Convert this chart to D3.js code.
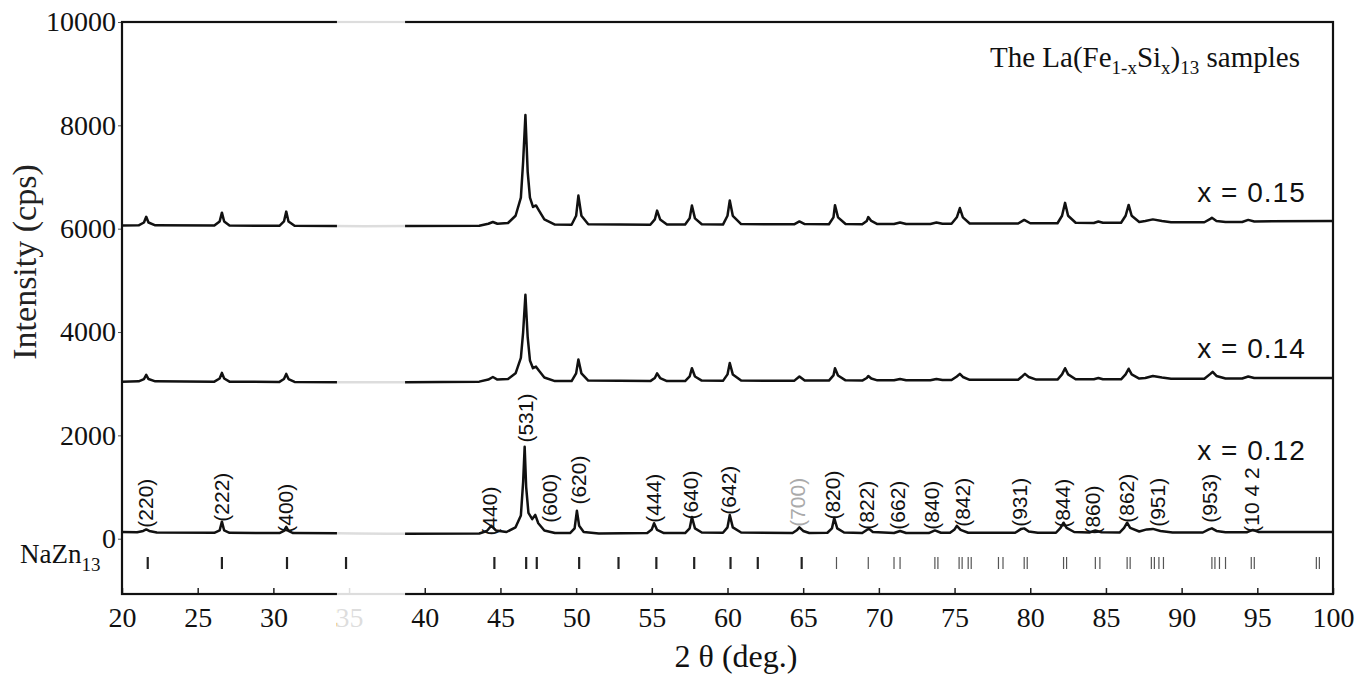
<!DOCTYPE html>
<html>
<head>
<meta charset="utf-8">
<script src="https://cdn.jsdelivr.net/npm/d3@7/dist/d3.min.js"></script>
<style>
  html, body { margin: 0; padding: 0; background: #fff; }
  svg { display: block; }
</style>
</head>
<body>
<svg id="chart" width="1370" height="677"></svg>
<script>
// ---------------- data ----------------
const xTicks = [20, 25, 30, 35, 40, 45, 50, 55, 60, 65, 70, 75, 80, 85, 90, 95, 100];
const yTicks = [0, 2000, 4000, 6000, 8000, 10000];

const seriesNames = ["x = 0.15", "x = 0.14", "x = 0.12"];
const seriesLabelY = [6520, 3500, 1530];

// x = 0.15 (top trace) [2theta, cps]
const seriesX015 = [
  [20,6060],[21.1,6065],[21.45,6120],[21.6,6230],[21.75,6120],[22.2,6065],
  [26.1,6060],[26.45,6140],[26.6,6310],[26.75,6140],[27.1,6060],
  [30.4,6055],[30.7,6140],[30.85,6330],[31.0,6140],[31.4,6055],
  [34.0,6050],[36.0,6045],[38.8,6050],
  [43.6,6055],[44.2,6095],[44.5,6130],[44.8,6095],[45.5,6110],[46.0,6250],[46.35,6600],[46.5,7300],[46.65,8200],[46.8,7100],[46.95,6600],[47.15,6420],[47.35,6450],[47.55,6350],[47.9,6180],[48.6,6080],
  [49.7,6075],[50.0,6250],[50.15,6640],[50.35,6250],[50.8,6085],
  [54.9,6075],[55.2,6180],[55.35,6350],[55.55,6180],[56.0,6080],
  [57.2,6080],[57.5,6200],[57.65,6450],[57.85,6200],[58.3,6085],
  [59.7,6080],[60.0,6250],[60.15,6545],[60.35,6250],[60.9,6090],
  [64.4,6085],[64.75,6140],[65.1,6090],
  [66.7,6085],[67.0,6220],[67.1,6455],[67.3,6220],[67.8,6090],
  [68.9,6085],[69.2,6150],[69.3,6225],[69.5,6150],[69.9,6090],
  [71.0,6090],[71.4,6120],[71.8,6090],
  [73.4,6090],[73.8,6120],[74.2,6095],
  [74.8,6095],[75.15,6220],[75.35,6400],[75.55,6220],[76.0,6100],
  [79.2,6100],[79.6,6170],[80.0,6105],
  [81.8,6105],[82.1,6250],[82.3,6500],[82.5,6250],[83.0,6115],
  [84.2,6110],[84.5,6140],[84.8,6115],
  [86.0,6115],[86.3,6250],[86.5,6460],[86.7,6250],[87.2,6130],
  [87.6,6150],[88.1,6180],[88.7,6150],[89.3,6125],
  [91.5,6125],[91.9,6190],[92.0,6210],[92.3,6150],[92.9,6130],
  [94.0,6130],[94.4,6170],[94.8,6140],
  [100,6150]
];

// x = 0.14 (middle trace)
const seriesX014 = [
  [20,3040],[21.1,3045],[21.45,3090],[21.6,3170],[21.75,3090],[22.2,3045],
  [26.1,3040],[26.45,3100],[26.6,3210],[26.75,3100],[27.1,3040],
  [30.4,3035],[30.7,3090],[30.85,3190],[31.0,3090],[31.4,3035],
  [34.5,3030],[36.5,3030],[38.7,3030],
  [43.6,3040],[44.2,3080],[44.5,3130],[44.8,3080],[45.5,3090],[46.0,3200],[46.35,3500],[46.5,4000],[46.65,4720],[46.8,3900],[46.95,3450],[47.15,3300],[47.35,3330],[47.55,3250],[47.9,3120],[48.6,3050],
  [49.7,3050],[50.0,3200],[50.15,3470],[50.35,3200],[50.8,3060],
  [54.9,3050],[55.2,3110],[55.35,3200],[55.55,3110],[56.0,3050],
  [57.2,3050],[57.5,3140],[57.65,3300],[57.85,3140],[58.3,3060],
  [59.7,3055],[60.0,3180],[60.15,3400],[60.35,3180],[60.9,3060],
  [64.4,3055],[64.75,3140],[65.1,3060],
  [66.7,3060],[67.0,3160],[67.1,3300],[67.3,3160],[67.8,3065],
  [68.9,3060],[69.2,3110],[69.3,3150],[69.5,3100],[69.9,3065],
  [71.0,3065],[71.4,3090],[71.8,3065],
  [73.4,3065],[73.8,3090],[74.2,3070],
  [74.8,3070],[75.15,3140],[75.35,3190],[75.55,3130],[76.0,3075],
  [79.2,3075],[79.5,3150],[79.65,3190],[79.9,3130],[80.4,3080],
  [81.8,3080],[82.1,3180],[82.3,3300],[82.5,3180],[83.0,3085],
  [84.2,3085],[84.5,3110],[84.8,3085],
  [86.0,3085],[86.3,3180],[86.5,3290],[86.7,3180],[87.2,3100],
  [87.6,3110],[88.1,3150],[88.7,3120],[89.3,3095],
  [91.5,3095],[91.9,3190],[92.05,3230],[92.3,3150],[92.9,3100],
  [94.0,3100],[94.4,3140],[94.8,3110],
  [100,3110]
];

// x = 0.12 (bottom trace)
const seriesX012 = [
  [20,130],[21.0,125],[21.4,150],[21.6,180],[21.8,150],[22.3,120],
  [26.1,115],[26.45,160],[26.6,330],[26.75,160],[27.1,115],
  [30.4,110],[30.7,150],[30.85,230],[31.0,150],[31.3,110],
  [34.3,105],[35.5,100],[37.5,95],[38.7,95],
  [43.6,100],[44.1,150],[44.4,250],[44.7,160],[45.4,130],[46.0,220],[46.35,450],[46.5,1100],[46.6,1780],[46.7,1000],[46.85,500],[47.1,380],[47.3,460],[47.5,300],[47.9,160],[48.6,110],
  [49.6,110],[49.9,200],[50.05,540],[50.2,250],[50.5,130],[51.5,100],
  [54.7,110],[55.0,180],[55.15,300],[55.35,170],[55.8,110],
  [57.2,110],[57.5,200],[57.65,420],[57.85,200],[58.3,120],
  [59.7,115],[60.0,220],[60.15,460],[60.35,220],[60.9,120],
  [64.3,110],[64.6,170],[64.75,220],[65.0,150],[65.4,110],
  [66.6,115],[66.9,200],[67.05,400],[67.25,200],[67.7,120],
  [68.9,110],[69.2,170],[69.35,190],[69.6,130],
  [71.0,110],[71.4,150],[71.8,110],
  [73.3,110],[73.7,160],[74.1,115],
  [74.7,115],[75.0,180],[75.15,250],[75.4,170],[75.9,115],
  [79.0,115],[79.4,190],[79.6,200],[79.9,140],[80.5,115],
  [81.7,115],[82.0,210],[82.2,310],[82.4,210],[82.9,130],
  [83.9,120],[84.3,160],[84.7,125],
  [85.9,120],[86.2,210],[86.4,310],[86.6,210],[87.2,140],
  [87.7,180],[88.1,190],[88.6,150],[89.4,120],
  [91.4,120],[91.8,180],[92.0,200],[92.3,150],[92.9,125],
  [94.3,125],[94.7,170],[95.1,130],
  [100,130]
];

// Miller-index labels of the x = 0.12 pattern
const hklLabels = ["(220)","(222)","(400)","(440)","(531)","(600)","(620)","(444)","(640)","(642)","(700)","(820)","(822)","(662)","(840)","(842)","(931)","(844)","(860)","(862)","(951)","(953)","(10 4 2"];
const hklTheta  = [21.52,26.54,30.77,44.3,46.62,48.27,50.12,55.14,57.58,60.03,64.65,66.96,69.2,71.25,73.5,75.55,79.31,82.15,84.13,86.38,88.43,91.86,94.64];
const hklBase   = [213,330,115,60,1860,310,660,310,370,465,230,370,175,175,175,230,230,210,80,310,230,310,115];

// NaZn13-type reference reflections
const nazn13Theta = [21.7,26.6,30.9,34.8,44.6,46.7,47.4,50.2,52.8,55.3,57.8,60.2,62.0,64.9,67.2,69.3,71.0,71.4,73.7,73.9,75.3,75.5,75.9,76.1,77.9,78.2,79.6,79.8,82.2,82.4,84.3,84.6,86.4,86.6,88.0,88.2,88.5,88.8,92.0,92.2,92.5,92.9,94.6,94.8,98.9,99.1];
const nazn13Level = -470;

// scanned faded band
const fadedBand = [34.2, 38.7];

// ---------------- drawing ----------------
const svg = d3.select("#chart");
const L = 122, R = 1333, T = 22, B = 594;
const x = d3.scaleLinear().domain([20, 100]).range([L, R]);
const y = d3.scaleLinear().domain([-1070, 10000]).range([B, T]);

const serif = "'Liberation Serif', 'Times New Roman', serif";
const sans = "'Liberation Sans', Arial, sans-serif";

const line = d3.line().x(d => x(d[0])).y(d => y(d[1]));

[seriesX015, seriesX014, seriesX012].forEach(s => {
  svg.append("path").datum(s)
    .attr("d", line)
    .attr("fill", "none")
    .attr("stroke", "#111")
    .attr("stroke-width", 2.5)
    .attr("stroke-linejoin", "round");
});

// axes
const yAxis = d3.axisLeft(y).tickValues(yTicks).tickSize(4).tickPadding(2).tickFormat(d3.format("d"));
const gy = svg.append("g").attr("transform", `translate(${L},0)`).call(yAxis);
gy.select(".domain").remove();
gy.selectAll("text").attr("font-family", serif).attr("font-size", 28).attr("fill", "#111");
gy.selectAll("line").attr("stroke", "#555");

const xAxis = d3.axisBottom(x).tickValues(xTicks).tickSizeInner(-6).tickSizeOuter(0).tickPadding(13).tickFormat(d3.format("d"));
const gx = svg.append("g").attr("transform", `translate(0,${B})`).call(xAxis);
gx.select(".domain").remove();
gx.selectAll("text").attr("font-family", serif).attr("font-size", 28).attr("fill", "#111");
gx.selectAll("line").attr("stroke", "#222").attr("stroke-width", 1.5);

// frame
svg.append("rect")
  .attr("x", x(20)).attr("y", y(10000))
  .attr("width", x(100) - x(20)).attr("height", y(-1070) - y(10000))
  .attr("fill", "none").attr("stroke", "#111").attr("stroke-width", 2.2);

// faded band of the scan
svg.append("rect")
  .attr("x", x(fadedBand[0])).attr("y", 12)
  .attr("width", x(fadedBand[1]) - x(fadedBand[0])).attr("height", 630)
  .attr("fill", "#fff").attr("opacity", 0.86);

// NaZn13 reference ticks
svg.append("g").selectAll("line").data(nazn13Theta).join("line")
  .attr("x1", d => x(d)).attr("x2", d => x(d))
  .attr("y1", y(nazn13Level) - 6).attr("y2", y(nazn13Level) + 6)
  .attr("stroke", d => d < 65 ? "#222" : "#555")
  .attr("stroke-width", d => d < 65 ? 2.2 : 1.2);

// hkl labels
svg.append("g").selectAll("text").data(hklLabels).join("text")
  .attr("transform", (d, i) => `translate(${x(hklTheta[i])},${y(hklBase[i])}) rotate(-90)`)
  .attr("dy", "0.36em")
  .attr("text-anchor", "start")
  .attr("font-family", sans).attr("font-size", 21)
  .attr("fill", d => d === "(700)" ? "#aaa" : "#111")
  .text(d => d);

// series labels
svg.append("g").selectAll("text").data(seriesNames).join("text")
  .attr("x", x(98.2)).attr("y", (d, i) => y(seriesLabelY[i]))
  .attr("text-anchor", "end")
  .attr("font-family", sans).attr("font-size", 28)
  .attr("letter-spacing", 1)
  .attr("fill", "#111")
  .text(d => d);

// title in the plot
const title = svg.append("text").attr("x", 990).attr("y", 67)
  .attr("font-family", serif).attr("font-size", 29).attr("fill", "#111");
title.append("tspan").text("The La(Fe");
title.append("tspan").attr("font-size", 19).attr("dy", 7).text("1-x");
title.append("tspan").attr("dy", -7).text("Si");
title.append("tspan").attr("font-size", 19).attr("dy", 7).text("x");
title.append("tspan").attr("dy", -7).text(")");
title.append("tspan").attr("font-size", 19).attr("dy", 7).text("13");
title.append("tspan").attr("dy", -7).text(" samples");

// NaZn13 label
const nz = svg.append("text").attr("x", 20).attr("y", 563)
  .attr("font-family", serif).attr("font-size", 27).attr("fill", "#111");
nz.append("tspan").text("NaZn");
nz.append("tspan").attr("font-size", 19).attr("dy", 8).text("13");

// axis titles
svg.append("text")
  .attr("transform", `translate(36,262) rotate(-90)`)
  .attr("text-anchor", "middle")
  .attr("font-family", serif).attr("font-size", 34).attr("fill", "#222")
  .text("Intensity (cps)");

svg.append("text")
  .attr("x", 736).attr("y", 667)
  .attr("text-anchor", "middle")
  .attr("font-family", serif).attr("font-size", 32).attr("fill", "#111")
  .text("2 θ (deg.)");
</script>
</body>
</html>
